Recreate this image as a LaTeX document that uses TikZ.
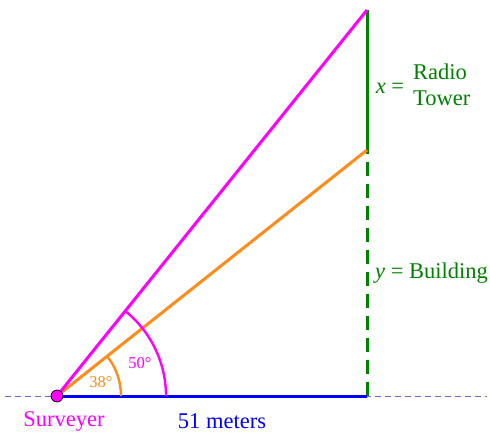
\documentclass[tikz,border=0pt]{standalone}
\usepackage{fontspec}
\setmainfont{Liberation Serif}
\begin{document}
\begin{tikzpicture}[x=1pt,y=-1pt,
  mainline/.style={line width=3pt},
  lbl/.style={font=\fontsize{22.5}{26}\selectfont, inner sep=0pt},
  anglbl/.style={font=\fontsize{16.5}{18}\selectfont, inner sep=0pt}]
\definecolor{mag}{HTML}{FF00FF}
\definecolor{org}{HTML}{FF8C1A}
\definecolor{grn}{HTML}{008000}
\definecolor{blu}{HTML}{0000FF}
\definecolor{dsh}{HTML}{6A6AC8}
\useasboundingbox (0,0) rectangle (490,433);
\coordinate (S) at (57,396);
\coordinate (B) at (367,396);
\coordinate (T) at (367,10);
\coordinate (M) at (367,150);
\coordinate (L) at (5,396);
\coordinate (R) at (487,396);
\draw[dsh, line width=0.9pt, dash pattern=on 6pt off 4pt] (L) -- (R);
\draw[grn, mainline, dash pattern=on 14pt off 8pt] (B) -- (M);
\draw[grn, mainline] (M) -- (T);
\draw[blu, mainline] (S) -- (B);
\draw[org, mainline] (S) -- (M);
\draw[mag, mainline] (S) -- (T);
\draw[org, line width=2.4pt] ([shift={(64,0)}]S) arc[start angle=0, end angle=-38.43, radius=64];
\draw[mag, line width=2.4pt] ([shift={(109,0)}]S) arc[start angle=0, end angle=-51.23, radius=109];
\node[circle, fill=mag, draw=black, line width=0.7pt, minimum size=12pt, inner sep=0pt] (P) at (S) {};
\node[anglbl, text=org] (a38) at (101,382) {38°};
\node[anglbl, text=mag] (a50) at (140,363) {50°};
\node[lbl, text=mag] (surv) at (64,421) {Surveyer};
\node[lbl, text=blu] (dist) at (222,421) {51 meters};
\node[lbl, text=grn] (xeq) at (390,88) {\textit{x} =};
\node[lbl, text=grn, align=left, anchor=west] (tower) at (413,85) {Radio\\Tower};
\node[lbl, text=grn, anchor=west] (bld) at (375,273) {\textit{y} = Building};
\end{tikzpicture}
\end{document}
